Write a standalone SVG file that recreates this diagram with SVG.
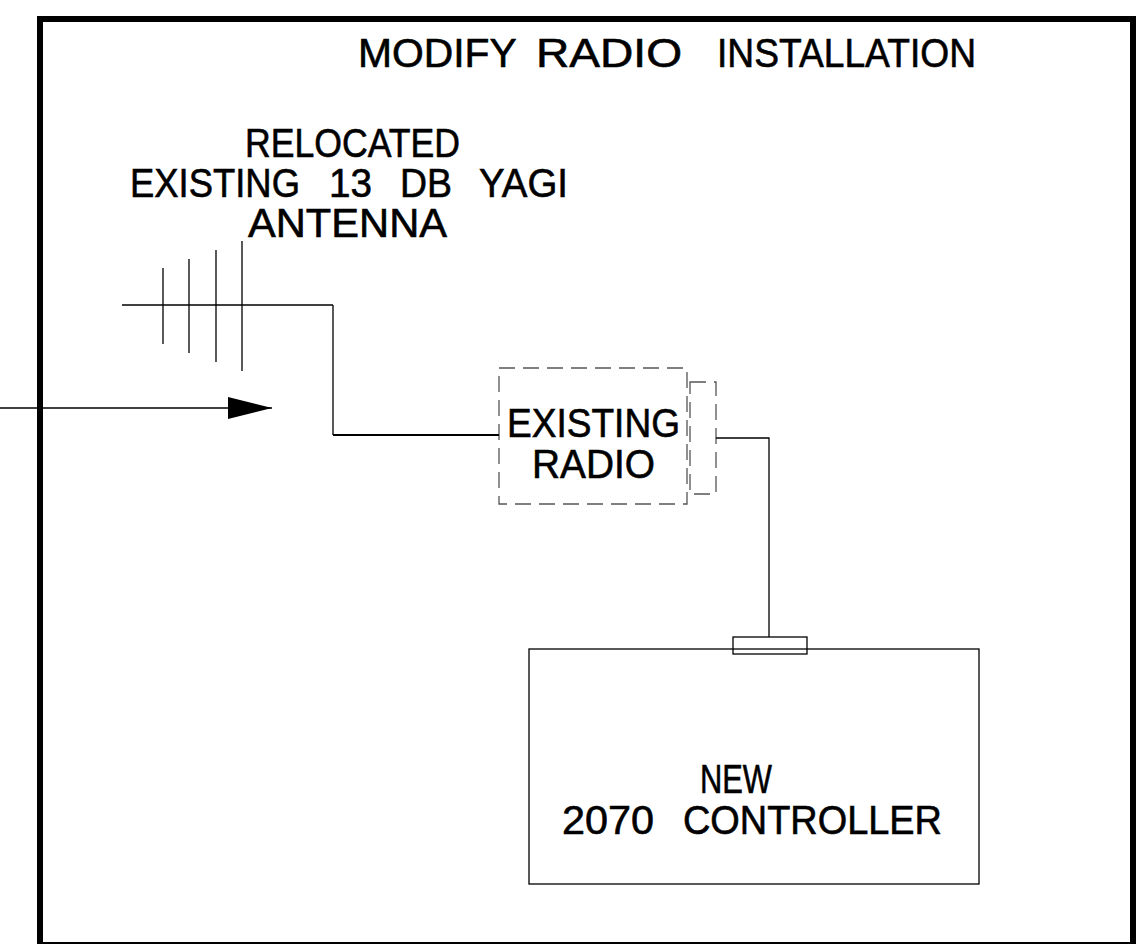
<svg xmlns="http://www.w3.org/2000/svg" width="1138" height="944" viewBox="0 0 1138 944">
<style>
text{font-family:"Liberation Sans",Arial,sans-serif;font-size:40px;fill:#000;stroke:#000;stroke-width:0.6}
.thin{fill:none;stroke:#000;stroke-width:1.3}
.dash{fill:none;stroke:#555;stroke-width:1.3;stroke-dasharray:16,8}
</style>
<defs>
<marker id="ah" markerUnits="userSpaceOnUse" markerWidth="46" markerHeight="24" refX="44" refY="11" orient="auto">
<path d="M0,0 L44,11 L0,22 Z" fill="#000"/>
</marker>
</defs>
<rect id="frame" x="40" y="19" width="1093" height="926" fill="none" stroke="#000" stroke-width="6"/>
<g id="title"><text y="67"><tspan x="358" textLength="158" lengthAdjust="spacingAndGlyphs">MODIFY</tspan> <tspan x="536" textLength="146" lengthAdjust="spacingAndGlyphs">RADIO</tspan>  <tspan x="717" textLength="259" lengthAdjust="spacingAndGlyphs">INSTALLATION</tspan></text></g>
<g id="antenna">
<text x="245" y="157" textLength="215" lengthAdjust="spacingAndGlyphs">RELOCATED</text>
<text y="197"><tspan x="130" textLength="170" lengthAdjust="spacingAndGlyphs">EXISTING</tspan>  <tspan x="329" textLength="43" lengthAdjust="spacingAndGlyphs">13</tspan>  <tspan x="400" textLength="52" lengthAdjust="spacingAndGlyphs">DB</tspan>  <tspan x="479" textLength="89" lengthAdjust="spacingAndGlyphs">YAGI</tspan></text>
<text x="248" y="237" textLength="199" lengthAdjust="spacingAndGlyphs">ANTENNA</text>
<line class="thin" x1="122" y1="305" x2="333" y2="305"/>
<line class="thin" x1="163" y1="268" x2="163" y2="344"/>
<line class="thin" x1="189" y1="259" x2="189" y2="353"/>
<line class="thin" x1="216" y1="250" x2="216" y2="362"/>
<line class="thin" x1="242" y1="241" x2="242" y2="371"/>
</g>
<g id="radio">
<rect class="dash" x="499" y="368" width="188" height="136"/>
<rect class="dash" x="690" y="382" width="26" height="112"/>
<text x="507" y="437" textLength="173" lengthAdjust="spacingAndGlyphs">EXISTING</text>
<text x="532" y="478" textLength="123" lengthAdjust="spacingAndGlyphs">RADIO</text>
</g>
<g id="controller">
<rect class="thin" x="529" y="649" width="450" height="235"/>
<rect class="thin" x="733" y="637" width="74" height="17"/>
<text x="700" y="793" textLength="72" lengthAdjust="spacingAndGlyphs">NEW</text>
<text y="834"><tspan x="562" textLength="92" lengthAdjust="spacingAndGlyphs">2070</tspan>  <tspan x="683" textLength="259" lengthAdjust="spacingAndGlyphs">CONTROLLER</tspan></text>
</g>
<g id="connectors">
<path class="thin" d="M333,305 V435"/>
<path fill="none" stroke="#000" stroke-width="2.2" d="M333,435 H499"/>
<path class="thin" d="M716,438 H769 V637"/>
<line class="thin" x1="0" y1="408" x2="272" y2="408" marker-end="url(#ah)"/>
</g>
</svg>
